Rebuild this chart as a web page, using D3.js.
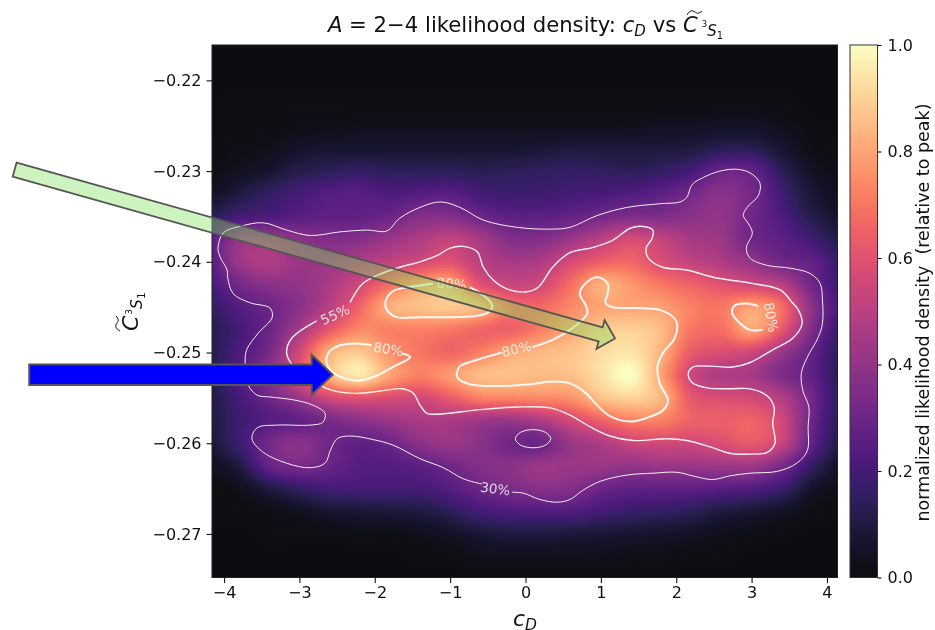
<!DOCTYPE html>
<html><head><meta charset="utf-8">
<script src="https://cdn.jsdelivr.net/npm/d3@7"></script>
<style>
html,body{margin:0;padding:0;background:#fff;width:935px;height:630px;overflow:hidden}
#wrap{position:relative;width:935px;height:630px}
canvas,svg{position:absolute;left:0;top:0}
svg{filter:blur(.3px)}
text{font-family:"DejaVu Sans",sans-serif;fill:#111;white-space:pre}
</style></head><body><div id="wrap"><canvas id="heat" width="935" height="630"></canvas><svg id="chart" width="935" height="630"></svg></div>
<script>
const xTicks=[-4,-3,-2,-1,0,1,2,3,4];
const yTicks=[-0.22,-0.23,-0.24,-0.25,-0.26,-0.27];
const colorTicks=[0,0.2,0.4,0.6,0.8,1];
const gridX=d3.range(22).map(i=>+(-4.2+0.4*i).toFixed(1));
const gridY=d3.range(25).map(i=>+(-0.215-0.0025*i).toFixed(4));
const density=[
[0,0,0,0,0,0,0,0,0,0,0,0,0,0,0,0,0,0,0,0,0,0],
[0,0,0,0,0,0,0,0,0,0,0,0,0,0,0,0,0,0,0,0,0,0],
[0,0,0,0,0,0,0,0,0,0,0,0,0,0,0,0,0,0,0,0,0,0],
[0,.01,.01,.01,.01,.01,.01,.01,.01,.01,.01,.01,.01,.01,.01,.01,.01,.01,.01,.01,0,0],
[0,.01,.01,.02,.02,.03,.03,.03,.03,.03,.03,.03,.03,.03,.03,.04,.04,.05,.05,.03,.01,0],
[.01,.02,.03,.06,.07,.07,.07,.07,.07,.07,.07,.08,.09,.09,.09,.09,.1,.13,.13,.07,.02,.01],
[.02,.04,.07,.12,.14,.16,.14,.14,.14,.13,.14,.15,.16,.15,.14,.16,.2,.29,.28,.14,.05,.02],
[.05,.1,.16,.2,.24,.25,.22,.24,.25,.2,.18,.18,.2,.21,.23,.26,.32,.38,.32,.19,.08,.03],
[.13,.2,.22,.25,.27,.27,.3,.36,.36,.3,.26,.26,.28,.32,.35,.35,.38,.4,.31,.22,.12,.06],
[.25,.4,.42,.38,.35,.37,.42,.47,.52,.45,.36,.36,.42,.5,.57,.52,.45,.42,.31,.26,.19,.1],
[.24,.42,.47,.42,.42,.47,.52,.56,.6,.5,.45,.47,.57,.64,.66,.58,.52,.47,.4,.31,.27,.16],
[.2,.32,.38,.4,.46,.56,.68,.78,.8,.6,.54,.56,.68,.82,.77,.7,.65,.6,.55,.49,.31,.18],
[.15,.24,.3,.38,.5,.66,.82,.86,.88,.83,.68,.67,.74,.8,.8,.79,.72,.7,.79,.68,.38,.2],
[.12,.2,.3,.45,.62,.74,.72,.72,.7,.66,.65,.72,.8,.88,.9,.85,.7,.68,.8,.62,.35,.16],
[.12,.22,.33,.56,.82,.88,.76,.7,.66,.72,.8,.84,.87,.92,.94,.83,.63,.58,.55,.42,.28,.13],
[.12,.24,.38,.6,.84,.95,.8,.72,.78,.85,.86,.85,.86,.93,1,.8,.55,.47,.45,.35,.27,.12],
[.1,.2,.3,.42,.56,.6,.58,.56,.63,.72,.73,.74,.76,.86,.9,.84,.62,.58,.56,.48,.31,.13],
[.1,.18,.24,.27,.33,.38,.42,.46,.46,.43,.42,.47,.56,.65,.72,.72,.65,.64,.65,.55,.3,.12],
[.08,.18,.32,.38,.31,.27,.3,.38,.42,.38,.31,.3,.42,.47,.54,.56,.55,.58,.62,.53,.27,.1],
[.04,.1,.28,.33,.29,.24,.24,.26,.31,.36,.38,.42,.42,.42,.4,.42,.42,.43,.43,.33,.16,.05],
[.01,.03,.1,.16,.2,.2,.2,.2,.24,.3,.34,.37,.36,.3,.27,.27,.26,.25,.23,.18,.06,.02],
[.01,.01,.02,.04,.07,.08,.09,.1,.14,.2,.22,.23,.23,.2,.17,.16,.14,.1,.08,.05,.02,.01],
[0,0,.01,.01,.01,.02,.02,.03,.05,.08,.1,.1,.09,.08,.07,.06,.05,.03,.02,.01,0,0],
[0,0,0,0,0,0,0,.01,.01,.03,.03,.03,.03,.03,.02,.02,.01,.01,0,0,0,0],
[0,0,0,0,0,0,0,0,0,0,0,0,0,0,0,0,0,0,0,0,0,0]];
const contour30Outer=[[-.58,-.2645],[-.83,-.2639],[-1.09,-.2627],[-1.40,-.2617],[-1.76,-.2602],[-2.02,-.2596],[-2.33,-.2592],[-2.50,-.2595],[-2.59,-.2608],[-2.66,-.2622],[-2.86,-.2627],[-3.17,-.2622],[-3.48,-.2610],[-3.63,-.2595],[-3.56,-.2583],[-3.30,-.2580],[-2.86,-.2580],[-2.69,-.2577],[-2.66,-.2567],[-2.82,-.2558],[-3.09,-.2552],[-3.39,-.2549],[-3.56,-.2547],[-3.68,-.2536],[-3.72,-.2512],[-3.70,-.2497],[-3.55,-.2479],[-3.36,-.2461],[-3.39,-.2451],[-3.66,-.2445],[-3.88,-.2435],[-3.95,-.2418],[-3.96,-.2409],[-4.05,-.2395],[-4.08,-.2385],[-4.01,-.2368],[-3.79,-.2361],[-3.48,-.2357],[-3.17,-.2365],[-2.86,-.2371],[-2.46,-.2367],[-2.10,-.2365],[-1.84,-.2366],[-1.67,-.2352],[-1.40,-.2340],[-1.13,-.2334],[-.87,-.2340],[-.56,-.2354],[-.11,-.2362],[.33,-.2364],[.59,-.2362],[.95,-.2349],[1.35,-.2340],[1.78,-.2336],[2.05,-.2334],[2.14,-.2329],[2.21,-.2315],[2.36,-.2307],[2.58,-.2300],[2.81,-.2298],[2.98,-.2302],[3.11,-.2313],[3.09,-.2327],[2.94,-.2340],[2.89,-.2349],[2.95,-.2357],[3.01,-.2368],[2.93,-.2385],[2.98,-.2396],[3.21,-.2404],[3.51,-.2407],[3.78,-.2413],[3.91,-.2424],[3.94,-.2442],[3.94,-.2468],[3.88,-.2484],[3.74,-.2505],[3.66,-.2523],[3.68,-.2542],[3.76,-.2560],[3.75,-.2582],[3.74,-.2608],[3.60,-.2622],[3.34,-.2631],[2.98,-.2633],[2.71,-.2636],[2.48,-.2640],[2.22,-.2636],[2.01,-.2632],[1.69,-.2633],[1.35,-.2635],[.99,-.2642],[.76,-.2652],[.59,-.2662],[.42,-.2665],[.19,-.2662],[-.03,-.2655],[-.18,-.2654]];
const contour30Hole=[[-.135,-.2595],[-.066,-.2588],[.10,-.2585],[.266,-.2588],[.335,-.2595],[.266,-.2602],[.10,-.2605],[-.066,-.2602]];
const contour55=[[-2.33,-.2445],[-2.16,-.2424],[-1.97,-.2415],[-1.67,-.2406],[-1.40,-.2400],[-1.17,-.2393],[-1.00,-.2385],[-.83,-.2383],[-.64,-.2389],[-.56,-.2406],[-.43,-.2420],[-.21,-.2431],[.02,-.2433],[.17,-.2428],[.36,-.2406],[.59,-.2390],[.90,-.2384],[1.16,-.2376],[1.39,-.2363],[1.56,-.2361],[1.69,-.2365],[1.68,-.2374],[1.60,-.2385],[1.63,-.2396],[1.82,-.2406],[2.14,-.2409],[2.49,-.2417],[3.02,-.2424],[3.38,-.2431],[3.55,-.2446],[3.62,-.2453],[3.67,-.2468],[3.55,-.2484],[3.28,-.2497],[2.98,-.2511],[2.75,-.2516],[2.45,-.2515],[2.22,-.2516],[2.16,-.2523],[2.21,-.2533],[2.41,-.2539],[2.71,-.2540],[2.98,-.2540],[3.21,-.2548],[3.30,-.2561],[3.28,-.2578],[3.31,-.2600],[3.21,-.2610],[2.98,-.2612],[2.71,-.2611],[2.45,-.2604],[2.14,-.2597],[1.88,-.2595],[1.43,-.2597],[1.12,-.2592],[.86,-.2582],[.59,-.2569],[.33,-.2561],[-.11,-.2560],[-.60,-.2563],[-1.17,-.2568],[-1.31,-.2567],[-1.40,-.2558],[-1.49,-.2545],[-1.63,-.2540],[-1.89,-.2542],[-2.24,-.2545],[-2.55,-.2542],[-2.73,-.2536],[-3.09,-.2514],[-3.17,-.2500],[-3.10,-.2484],[-2.77,-.2465]];
const contour80Upper=[[-.74,-.2428],[-.56,-.2437],[-.44,-.2448],[-.50,-.2456],[-.70,-.2460],[-.96,-.2461],[-1.40,-.2461],[-1.71,-.2461],[-1.84,-.2453],[-1.86,-.2445],[-1.77,-.2433],[-1.57,-.2428],[-1.40,-.2426],[-1.23,-.2424]];
const contour80Left=[[-1.64,-.2501],[-1.53,-.2505],[-1.76,-.2516],[-2.02,-.2527],[-2.24,-.2531],[-2.50,-.2525],[-2.63,-.2514],[-2.62,-.2501],[-2.46,-.2492],[-2.24,-.2490],[-2.04,-.2492]];
const contour80Main=[[.09,-.2494],[.36,-.2486],[.59,-.2475],[.82,-.2457],[.80,-.2448],[.72,-.2435],[.82,-.2422],[.96,-.2417],[1.09,-.2424],[1.09,-.2435],[1.06,-.2445],[1.15,-.2450],[1.43,-.2451],[1.78,-.2453],[1.96,-.2461],[2.01,-.2468],[1.98,-.2484],[1.82,-.2501],[1.75,-.2516],[1.78,-.2534],[1.89,-.2553],[1.82,-.2564],[1.61,-.2572],[1.39,-.2576],[1.12,-.2570],[.95,-.2558],[.79,-.2544],[.59,-.2534],[.36,-.2532],[.06,-.2535],[-.38,-.2537],[-.74,-.2535],[-.90,-.2528],[-.91,-.2522],[-.87,-.2515],[-.64,-.2508],[-.31,-.2500]];
const contour80Right=[[3.09,-.2449],[2.94,-.2446],[2.78,-.2448],[2.74,-.2456],[2.85,-.2468],[2.98,-.2475],[3.15,-.2475]];
const contourLabels=[
 {t:"55%",x:-2.53,y:-.2458,r:-25},{t:"80%",x:-1.82,y:-.2496,r:9},
 {t:"80%",x:-.98,y:-.2424,r:4},{t:"80%",x:-.12,y:-.2496,r:-12},
 {t:"80%",x:3.26,y:-.2461,r:80},{t:"30%",x:-.40,y:-.2650,r:8}];
const arrowGreen={from:[-6.779,-.22984],to:[1.188,-.24845]};
const arrowBlue={from:[-6.585,-.25245],to:[-2.559,-.25245]};

const x=d3.scaleLinear().domain([-4.16,4.14]).range([212,837.5]);
const y=d3.scaleLinear().domain([-.2161,-.2748]).range([45,577.5]);
const cy=d3.scaleLinear().domain([0,1]).range([577.5,45]);
const lut=d3.range(1024).map(i=>{const c=d3.rgb(d3.interpolateMagma(i/1023));const a=.95;
  return [c.r*a+255*(1-a),c.g*a+255*(1-a),c.b*a+255*(1-a)];});
const colorOf=v=>lut[Math.max(0,Math.min(1023,Math.round(v*1023)))];

const ctx=document.getElementById('heat').getContext('2d');
const [x0,x1]=x.range(),[y0,y1]=y.range();
const W=Math.round(x1-x0),H=Math.round(y1-y0);
const img=ctx.createImageData(W,H);
const gx=d3.scaleLinear().domain([gridX[0],gridX[gridX.length-1]]).range([0,gridX.length-1]);
const gy=d3.scaleLinear().domain([gridY[0],gridY[gridY.length-1]]).range([0,gridY.length-1]);
const cr=(a,b,c,d,t)=>0.5*((2*b)+(-a+c)*t+(2*a-5*b+4*c-d)*t*t+(-a+3*b-3*c+d)*t*t*t);
const at=(r,c)=>density[Math.max(0,Math.min(density.length-1,r))][Math.max(0,Math.min(gridX.length-1,c))];
function sample(u,v){const c=Math.floor(u),r=Math.floor(v),fu=u-c,fv=v-r,col=[];
  for(let j=-1;j<3;j++)col.push(cr(at(r+j,c-1),at(r+j,c),at(r+j,c+1),at(r+j,c+2),fu));
  return cr(col[0],col[1],col[2],col[3],fv);}
for(let j=0;j<H;j++)for(let i=0;i<W;i++){
  const c=colorOf(sample(gx(x.invert(x0+i+.5)),gy(y.invert(y0+j+.5)))),k=(j*W+i)*4;
  img.data[k]=c[0];img.data[k+1]=c[1];img.data[k+2]=c[2];img.data[k+3]=255;}
ctx.putImageData(img,x0,y0);
for(let py=45;py<578;py++){const c=colorOf(cy.invert(py+.5));
  ctx.fillStyle=`rgb(${c[0]},${c[1]},${c[2]})`;ctx.fillRect(850,py,27.5,1);}

const svg=d3.select('#chart');
const lineOpen=d3.line().x(d=>x(d[0])).y(d=>y(d[1])).curve(d3.curveCatmullRom.alpha(.5));
const lineClosed=d3.line().x(d=>x(d[0])).y(d=>y(d[1])).curve(d3.curveCatmullRomClosed.alpha(.5));
const gC=svg.append('g').attr('fill','none').attr('stroke','#fff').attr('stroke-opacity',.92);
[[contour30Outer,1],[contour55,1.4],[contour80Upper,2],[contour80Left,2],[contour80Main,2],[contour80Right,2]].forEach(([d,w])=>
  gC.append('path').attr('d',lineOpen(d)).attr('stroke-width',w));
gC.append('path').attr('d',lineClosed(contour30Hole)).attr('stroke-width',1);
svg.append('g').selectAll('text').data(contourLabels).join('text')
  .attr('transform',d=>`translate(${x(d.x)},${y(d.y)}) rotate(${d.r})`)
  .attr('text-anchor','middle').attr('dominant-baseline','central')
  .style('font-size','13.5px').style('fill','#fff').style('fill-opacity',.8).text(d=>d.t);
svg.append('rect').attr('x',x0).attr('y',y0).attr('width',x1-x0).attr('height',y1-y0)
  .attr('fill','none').attr('stroke','#222').attr('stroke-width',1);
const styleAxis=g=>{g.select('.domain').remove();g.selectAll('line').attr('stroke','#111').attr('stroke-width',1.1);
  g.selectAll('text').style('font-size','16px').style('fill','#111');};
svg.append('g').attr('transform',`translate(0,${y1})`)
  .call(d3.axisBottom(x).tickValues(xTicks).tickSize(5.5).tickPadding(4).tickFormat(d3.format('d'))).call(styleAxis);
svg.append('g').attr('transform',`translate(${x0},0)`)
  .call(d3.axisLeft(y).tickValues(yTicks).tickSize(5.5).tickPadding(5).tickFormat(d3.format('.2f'))).call(styleAxis);
svg.append('g').attr('transform','translate(877.5,0)')
  .call(d3.axisRight(cy).tickValues(colorTicks).tickSize(4).tickPadding(6).tickFormat(d3.format('.1f'))).call(styleAxis);
svg.append('rect').attr('x',850).attr('y',45).attr('width',27.5).attr('height',532.5)
  .attr('fill','none').attr('stroke','#333').attr('stroke-width',1);

function arrowPath(a,sw,hw,hl){const p=[x(a.from[0]),y(a.from[1])],q=[x(a.to[0]),y(a.to[1])];
  const dx=q[0]-p[0],dy=q[1]-p[1],L=Math.hypot(dx,dy),ux=dx/L,uy=dy/L,nx=-uy,ny=ux;
  const bx=q[0]-ux*hl,by=q[1]-uy*hl;
  const pts=[[p[0]+nx*sw,p[1]+ny*sw],[bx+nx*sw,by+ny*sw],[bx+nx*hw,by+ny*hw],q,[bx-nx*hw,by-ny*hw],[bx-nx*sw,by-ny*sw],[p[0]-nx*sw,p[1]-ny*sw]];
  return 'M'+pts.map(d=>d.join(',')).join('L')+'Z';}
svg.append('path').attr('d',arrowPath(arrowGreen,7.3,15,15)).attr('fill','rgb(130,224,96)').attr('fill-opacity',.4)
  .attr('stroke','#555').attr('stroke-width',1.8);
svg.append('path').attr('d',arrowPath(arrowBlue,10.2,20,21)).attr('fill','#00f')
  .attr('stroke','#555').attr('stroke-width',2);

const T=svg.append('text').attr('x',525.5).attr('y',32).attr('text-anchor','middle').style('font-size','21.2px');
T.append('tspan').style('font-style','italic').text('A');
T.append('tspan').text(' = 2−4 likelihood density: ');
T.append('tspan').style('font-style','italic').text('c');
T.append('tspan').attr('dy',4).style('font-size','15px').style('font-style','italic').text('D');
T.append('tspan').attr('dy',-4).text(' vs ');
T.append('tspan').style('font-style','italic').text('C');
T.append('tspan').attr('dy',-5).attr('dx',4).style('font-size','8.5px').text('3');
T.append('tspan').attr('dy',9).style('font-size','15px').style('font-style','italic').text('S');
T.append('tspan').attr('dy',3).style('font-size','10px').text('1');
const tildePath='M0,4 C3,-1 5,-1 8,1 C10,2.5 12,3 15,0';
svg.append('path').attr('d',tildePath).attr('transform','translate(687,11)').attr('fill','none').attr('stroke','#111').attr('stroke-width',1);

const XL=svg.append('text').attr('x',525).attr('y',626).attr('text-anchor','middle').style('font-size','22px');
XL.append('tspan').style('font-style','italic').text('c');
XL.append('tspan').attr('dy',4).style('font-size','15.5px').style('font-style','italic').text('D');

const gY=svg.append('g').attr('transform','translate(138,331) rotate(-90)');
const YL=gY.append('text').attr('x',0).attr('y',0).style('font-size','22px');
YL.append('tspan').style('font-style','italic').text('C');
YL.append('tspan').attr('dy',-6).attr('dx',1).style('font-size','9px').text('3');
YL.append('tspan').attr('dy',10).style('font-size','15.5px').style('font-style','italic').text('S');
YL.append('tspan').attr('dy',3).style('font-size','10.5px').text('1');
gY.append('path').attr('d',tildePath).attr('transform','translate(0,-22)').attr('fill','none').attr('stroke','#111').attr('stroke-width',1);

svg.append('text').attr('transform','translate(928.5,312.5) rotate(-90)').attr('text-anchor','middle')
  .attr('xml:space','preserve').style('font-size','17.5px').text('normalized likelihood density  (relative to peak)');
</script></body></html>
